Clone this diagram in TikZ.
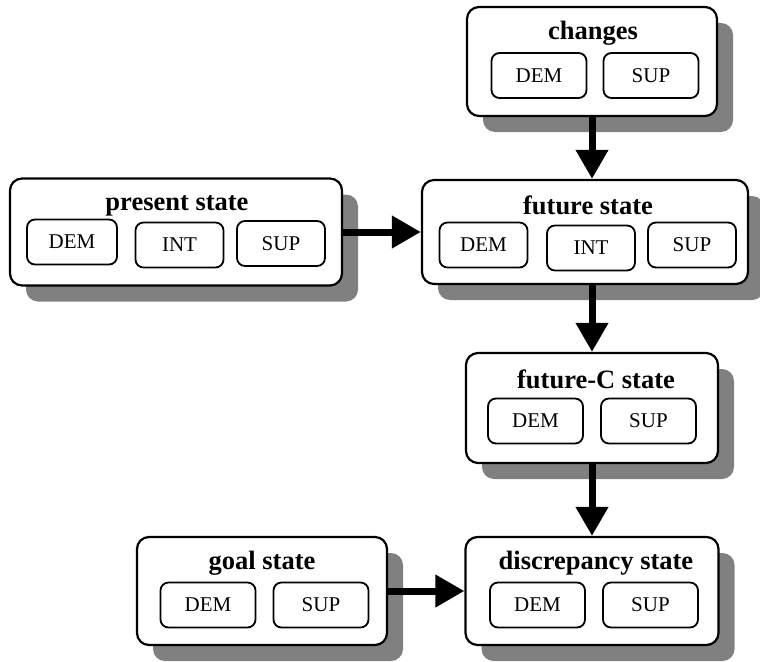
\documentclass[tikz,border=0pt]{standalone}
\usepackage{fontspec}
\setmainfont{Liberation Serif}
\usetikzlibrary{arrows.meta,shadows}
\begin{document}
\begin{tikzpicture}[x=1pt,y=-1pt,
  statebox/.style={draw, line width=2.2pt, rounded corners=12pt, fill=white,
    inner sep=0pt, anchor=center,
    drop shadow={shadow xshift=16pt, shadow yshift=-16pt, fill=black!50, opacity=1}},
  title/.style={font=\bfseries\fontsize{26.5}{30}\selectfont, inner sep=0pt, anchor=center},
  part/.style={draw, line width=1.8pt, rounded corners=8pt, fill=white,
    minimum width=95pt, minimum height=45pt, inner sep=0pt, anchor=center,
    font=\fontsize{21}{24}\selectfont},
  flow/.style={line width=7pt, -{Triangle[length=29pt,width=31pt]}}
]
\useasboundingbox (0,0) rectangle (760,661);

% changes
\node[statebox, minimum width=250pt, minimum height=109pt] (changes) at (592,61.5) {};
\node[title] (changesT) at (593,33) {changes};
\node[part] (changesD) at (539,75.5) {DEM};
\node[part] (changesS) at (651,75.5) {SUP};

% present state
\node[statebox, minimum width=332pt, minimum height=107pt] (present) at (176,232) {};
\node[title] (presentT) at (177,206) {present state};
\node[part, minimum width=90pt] (presentD) at (72,242) {DEM};
\node[part, minimum width=88pt] (presentI) at (179.5,245) {INT};
\node[part, minimum width=88pt] (presentS) at (281,243.5) {SUP};

% future state
\node[statebox, minimum width=326pt, minimum height=104pt] (future) at (585,232) {};
\node[title] (futureT) at (588,205) {future state};
\node[part, minimum width=88pt] (futureD) at (483.5,245) {DEM};
\node[part, minimum width=88pt] (futureI) at (591,248) {INT};
\node[part, minimum width=88pt] (futureS) at (692,245) {SUP};

% future-C state
\node[statebox, minimum width=252pt, minimum height=110pt] (futurec) at (592,408) {};
\node[title] (futurecT) at (596,379) {future-C state};
\node[part] (futurecD) at (535.5,421) {DEM};
\node[part] (futurecS) at (648.5,421) {SUP};

% goal state
\node[statebox, minimum width=250pt, minimum height=108pt] (goal) at (262,591) {};
\node[title] (goalT) at (262,563) {goal state};
\node[part] (goalD) at (208,605) {DEM};
\node[part] (goalS) at (321,605) {SUP};

% discrepancy state
\node[statebox, minimum width=253pt, minimum height=108pt] (disc) at (592,591) {};
\node[title] (discT) at (596,563) {discrepancy state};
\node[part] (discD) at (537.5,605) {DEM};
\node[part] (discS) at (650.5,605) {SUP};

% connectors
\draw[flow] (changes.south) -- (changes.south |- future.north);
\draw[flow] (present.east) -- (future.west);
\draw[flow] (futurec.north |- future.south) -- (futurec.north);
\draw[flow] (futurec.south) -- (futurec.south |- disc.north);
\draw[flow] (goal.east) -- (disc.west);
\end{tikzpicture}
\end{document}
